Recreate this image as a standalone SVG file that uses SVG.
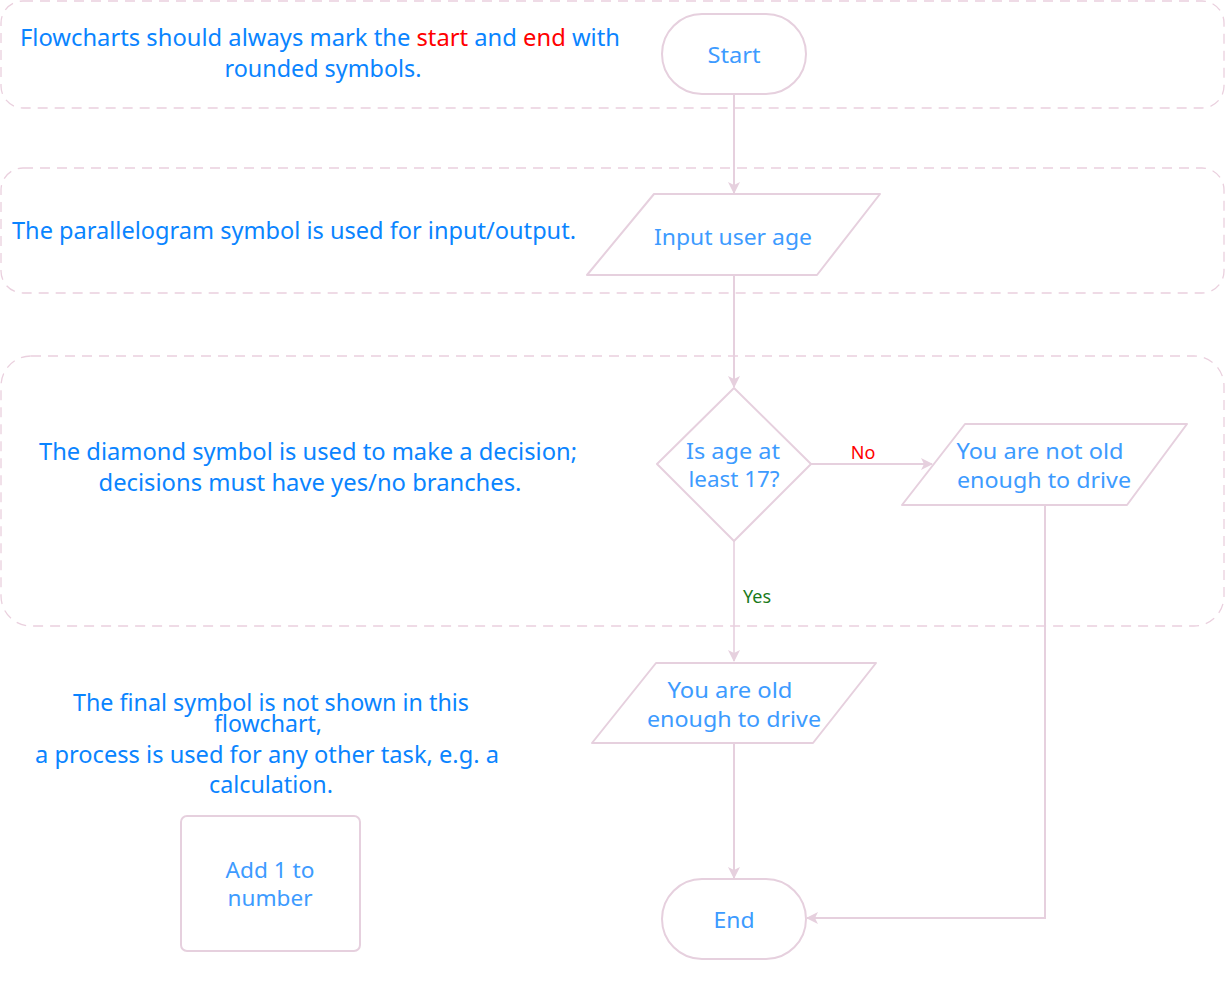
<svg xmlns="http://www.w3.org/2000/svg" width="1225" height="1005" viewBox="0 0 1225 1005">
<style>
.band{fill:none;stroke:#ead0de;stroke-width:1.3;stroke-dasharray:10 7}
.shape{fill:#fff;stroke:#e6d0de;stroke-width:2;stroke-linejoin:round}
.conn{fill:none;stroke:#e6d0de;stroke-width:2}
.note{font-family:"Noto Sans","DejaVu Sans",sans-serif;font-size:23px;fill:#0a84ff;text-anchor:middle}
.lbl{font-family:"Noto Sans","DejaVu Sans",sans-serif;font-size:21px;fill:#3d9bff;text-anchor:middle}
.red{fill:#ff0000}
.small{font-family:"Noto Sans","DejaVu Sans",sans-serif;font-size:18px;text-anchor:middle}
</style>
<defs>
<marker id="arr" viewBox="0 0 12 12" refX="11" refY="6" markerWidth="12" markerHeight="12" markerUnits="userSpaceOnUse" orient="auto">
<path d="M0,0 L12,6 L0,12 L3,6 Z" fill="#e6d0de"/>
</marker>
</defs>
<rect width="1225" height="1005" fill="#fff"/>
<g id="bands">
<rect class="band" x="1" y="1" width="1223" height="107" rx="22"/>
<rect class="band" x="1" y="168" width="1223" height="125" rx="22"/>
<rect class="band" x="1" y="356" width="1223" height="270" rx="30"/>
</g>
<g id="notes">
<text class="note" x="320" y="46" textLength="600" lengthAdjust="spacingAndGlyphs">Flowcharts should always mark the <tspan class="red">start</tspan> and <tspan class="red">end</tspan> with</text>
<text class="note" x="323" y="77" textLength="197" lengthAdjust="spacingAndGlyphs">rounded symbols.</text>
<text class="note" x="294" y="239" textLength="564" lengthAdjust="spacingAndGlyphs">The parallelogram symbol is used for input/output.</text>
<text class="note" x="308" y="460" textLength="538" lengthAdjust="spacingAndGlyphs">The diamond symbol is used to make a decision;</text>
<text class="note" x="310" y="491" textLength="423" lengthAdjust="spacingAndGlyphs">decisions must have yes/no branches.</text>
<text class="note" x="271" y="711" textLength="396" lengthAdjust="spacingAndGlyphs">The final symbol is not shown in this</text>
<text class="note" x="268" y="732" textLength="108" lengthAdjust="spacingAndGlyphs">flowchart,</text>
<text class="note" x="267" y="763" textLength="464" lengthAdjust="spacingAndGlyphs">a process is used for any other task, e.g. a</text>
<text class="note" x="271" y="793" textLength="124" lengthAdjust="spacingAndGlyphs">calculation.</text>
</g>
<g id="connectors">
<line class="conn" x1="734" y1="94" x2="734" y2="193" marker-end="url(#arr)"/>
<line class="conn" x1="734" y1="275" x2="734" y2="387" marker-end="url(#arr)"/>
<line class="conn" x1="811" y1="464" x2="932" y2="464" marker-end="url(#arr)"/>
<line class="conn" x1="734" y1="541" x2="734" y2="661" marker-end="url(#arr)" stroke-opacity="0.8"/>
<line class="conn" x1="734" y1="743" x2="734" y2="878" marker-end="url(#arr)"/>
<polyline class="conn" points="1045,505 1045,918 807,918" marker-end="url(#arr)"/>
<text class="small" x="863" y="459" fill="#ff0000">No</text>
<text class="small" x="757" y="603" fill="#1a7a1a">Yes</text>
</g>
<g id="start">
<rect class="shape" x="662" y="14" width="144" height="80" rx="40"/>
<text class="lbl" x="734" y="63" textLength="53" lengthAdjust="spacingAndGlyphs">Start</text>
</g>
<g id="input">
<path class="shape" d="M654,194 L880,194 L817,275 L587,275 Z"/>
<text class="lbl" x="733" y="245" textLength="158" lengthAdjust="spacingAndGlyphs">Input user age</text>
</g>
<g id="decision">
<path class="shape" d="M734,388 L811,464 L734,541 L657,464 Z"/>
<text class="lbl" x="733" y="459" textLength="94" lengthAdjust="spacingAndGlyphs">Is age at</text>
<text class="lbl" x="734" y="487" textLength="91" lengthAdjust="spacingAndGlyphs">least 17?</text>
</g>
<g id="notold">
<path class="shape" d="M965,424 L1187,424 L1127,505 L902,505 Z"/>
<text class="lbl" x="1040" y="459" textLength="167" lengthAdjust="spacingAndGlyphs">You are not old</text>
<text class="lbl" x="1044" y="488" textLength="174" lengthAdjust="spacingAndGlyphs">enough to drive</text>
</g>
<g id="old">
<path class="shape" d="M656,663 L876,663 L813,743 L592,743 Z"/>
<text class="lbl" x="730" y="698" textLength="125" lengthAdjust="spacingAndGlyphs">You are old</text>
<text class="lbl" x="734" y="727" textLength="174" lengthAdjust="spacingAndGlyphs">enough to drive</text>
</g>
<g id="end">
<rect class="shape" x="662" y="879" width="144" height="80" rx="40"/>
<text class="lbl" x="734" y="928" textLength="41" lengthAdjust="spacingAndGlyphs">End</text>
</g>
<g id="process">
<rect class="shape" x="181" y="816" width="179" height="135" rx="6"/>
<text class="lbl" x="270" y="878" fill="#0a84ff" textLength="89" lengthAdjust="spacingAndGlyphs">Add 1 to</text>
<text class="lbl" x="270" y="906" fill="#0a84ff" textLength="85" lengthAdjust="spacingAndGlyphs">number</text>
</g>
</svg>
